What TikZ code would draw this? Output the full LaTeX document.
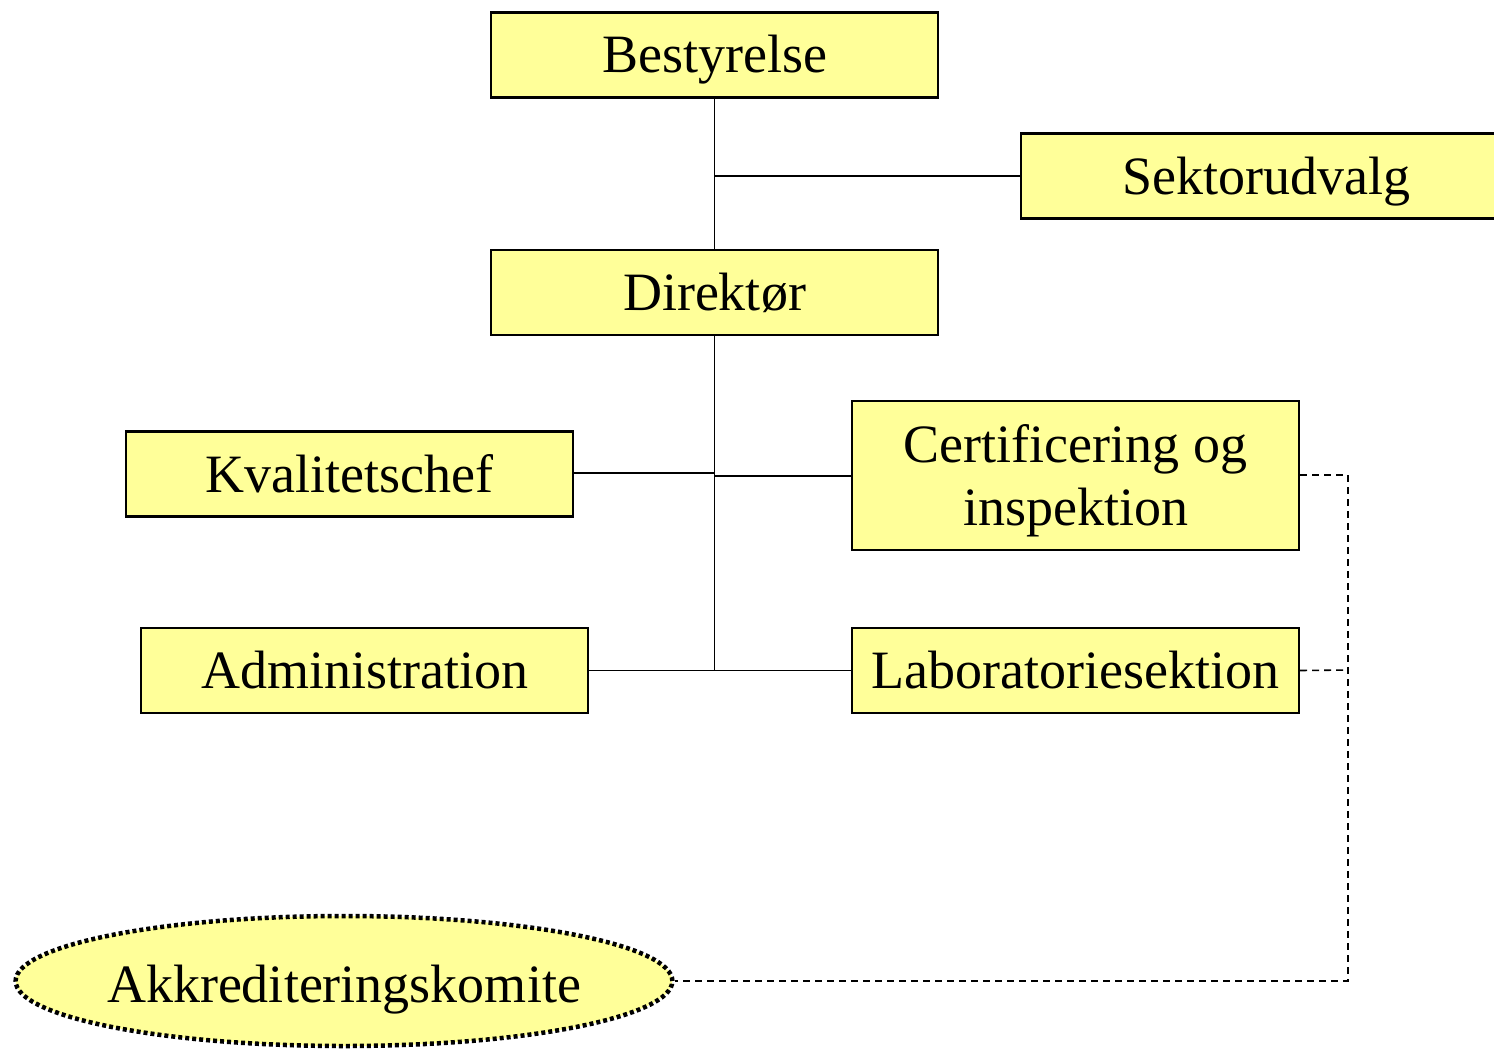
\documentclass[tikz,border=0pt]{standalone}
\usepackage{fontspec}
\setmainfont{Liberation Serif}
\usetikzlibrary{shapes.geometric}
\begin{document}
\begin{tikzpicture}[x=1pt,y=-1pt,
  box/.style={draw=black,line width=2.2pt,fill=boxfill,minimum width=447pt,minimum height=85pt,inner sep=0pt,align=center,text height=48pt,text depth=12pt,font=\fontsize{54}{63}\selectfont},
  conn/.style={line width=1.6pt},
  dconn/.style={line width=1.6pt,dash pattern=on 7pt off 5pt}]
\definecolor{boxfill}{RGB}{255,255,153}
\useasboundingbox (0,0) rectangle (1494,1049);
\node[box] (best) at (714.5,55) {Bestyrelse};
\node[box,minimum width=475pt] (sekt) at (1258.5,176) {\hspace*{16pt}Sektorudvalg};
\node[box] (dir) at (714.5,292.5) {Direktør};
\node[box] (kval) at (349.5,474) {Kvalitetschef};
\node[box,minimum height=149pt,text height=111pt] (cert) at (1075.5,475.5) {Certificering og\\inspektion};
\node[box] (adm) at (364.5,670.5) {Administration};
\node[box] (lab) at (1075.5,670.5) {Laboratoriesektion};
\node[ellipse,draw=black,line width=4.5pt,dash pattern=on 4pt off 3pt,fill=boxfill,minimum height=130pt,inner xsep=-4.75pt,inner ysep=0pt,text height=54pt,text depth=12pt,font=\fontsize{54}{63}\selectfont] (akk) at (344,981) {Akkrediteringskomite};
\coordinate (j1) at (714.5,176);
\coordinate (j2) at (714.5,670);
\coordinate (jk) at (714.5,473);
\coordinate (jc) at (714.5,476);
\coordinate (d1) at (1348,475);
\coordinate (d2) at (1348,981);
\coordinate (d3) at (1348,670);
\draw[conn] (best.south) -- (dir.north);
\draw[conn] (j1) -- (j1 -| sekt.west);
\draw[conn] (dir.south) -- (j2);
\draw[conn] (kval.east |- jk) -- (jk);
\draw[conn] (jc) -- (cert.west |- jc);
\draw[conn] (adm.east) -- (lab.west);
\draw[dconn] (cert.east |- d1) -- (d1) -- (d2) -- (akk.east);
\draw[dconn] (lab.east) -- (d3);
\end{tikzpicture}
\end{document}
